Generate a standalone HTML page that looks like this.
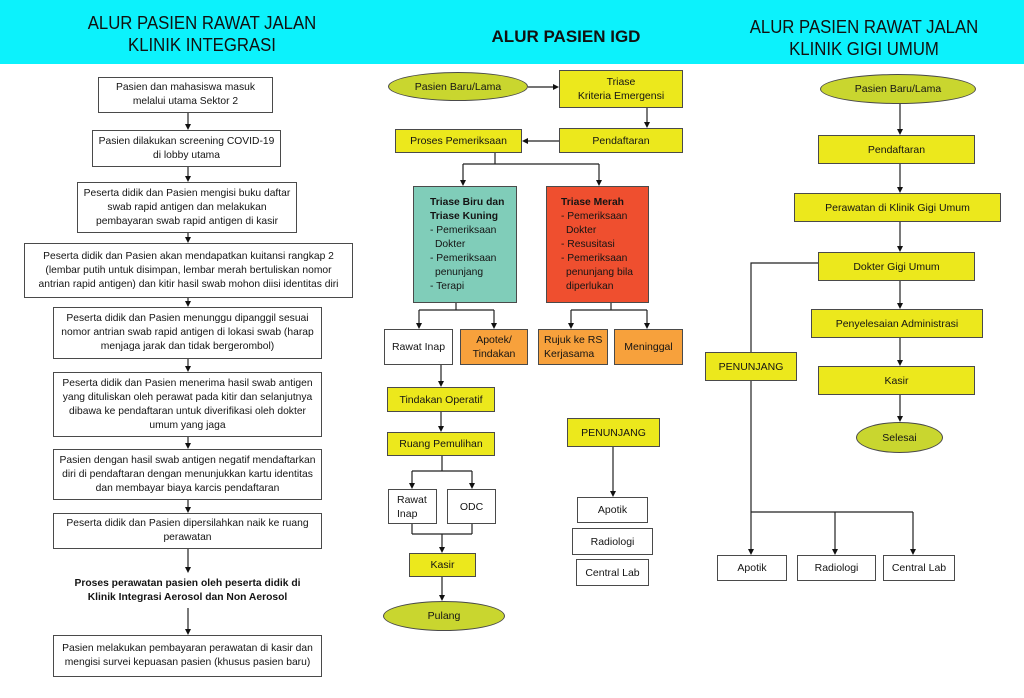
<!DOCTYPE html>
<html>
<head>
<meta charset="utf-8">
<style>
  html,body{margin:0;padding:0;background:#fff;}
  #c{position:relative;width:1024px;height:698px;overflow:hidden;background:#fff;font-family:"Liberation Sans",Arial,sans-serif;color:#141414;}
  .hdr{position:absolute;left:0;top:0;width:1024px;height:64px;background:#0cf2fc;}
  .t{position:absolute;font-size:18px;line-height:22px;text-align:center;white-space:nowrap;color:#111;transform:scaleX(0.93);transform-origin:center;}
  .b{position:absolute;box-sizing:border-box;border:1px solid #4a4a4a;display:flex;flex-direction:column;align-items:center;justify-content:center;text-align:center;font-size:10.3px;line-height:14px;white-space:nowrap;background:#fff;}
  .y{background:#ece81c;}
  .o{background:#f7a13c;}
  .e{position:absolute;box-sizing:border-box;border:1px solid #4a4a4a;border-radius:50%;background:#c9d62f;display:flex;align-items:center;justify-content:center;font-size:10.5px;white-space:nowrap;}
  .m{font-size:10.5px;}
  .lb{position:absolute;box-sizing:border-box;border:1px solid #4a4a4a;font-size:10.3px;line-height:14px;white-space:nowrap;}
  .lb div{height:14px;}
  .ind{padding-left:5px;}
  svg{position:absolute;left:0;top:0;}
</style>
</head>
<body>
<div id="c">
  <div class="hdr"></div>
  <div class="t" style="left:52px;top:12px;width:300px;">ALUR PASIEN RAWAT JALAN<br>KLINIK INTEGRASI</div>
  <div class="t" style="left:416px;top:26px;width:300px;font-weight:bold;transform:none;font-size:17px;">ALUR PASIEN IGD</div>
  <div class="t" style="left:714px;top:16px;width:300px;">ALUR PASIEN RAWAT JALAN<br>KLINIK GIGI UMUM</div>

  <!-- Left column -->
  <div class="b" style="left:98px;top:77px;width:175px;height:36px;"><div>Pasien dan mahasiswa masuk</div><div>melalui utama Sektor 2</div></div>
  <div class="b" style="left:92px;top:130px;width:189px;height:37px;"><div>Pasien dilakukan screening COVID-19</div><div>di lobby utama</div></div>
  <div class="b" style="left:77px;top:182px;width:220px;height:51px;"><div>Peserta didik dan Pasien mengisi buku daftar</div><div>swab rapid antigen dan melakukan</div><div>pembayaran swab rapid antigen di kasir</div></div>
  <div class="b" style="left:24px;top:243px;width:329px;height:55px;"><div>Peserta didik dan Pasien akan mendapatkan kuitansi rangkap 2</div><div>(lembar putih untuk disimpan, lembar merah bertuliskan nomor</div><div>antrian rapid antigen) dan kitir hasil swab mohon diisi identitas diri</div></div>
  <div class="b" style="left:53px;top:307px;width:269px;height:52px;"><div>Peserta didik dan Pasien menunggu dipanggil sesuai</div><div>nomor antrian swab rapid antigen di lokasi swab (harap</div><div>menjaga jarak dan tidak bergerombol)</div></div>
  <div class="b" style="left:53px;top:372px;width:269px;height:65px;"><div>Peserta didik dan Pasien menerima hasil swab antigen</div><div>yang dituliskan oleh perawat pada kitir dan selanjutnya</div><div>dibawa ke pendaftaran untuk diverifikasi oleh dokter</div><div>umum yang jaga</div></div>
  <div class="b" style="left:53px;top:449px;width:269px;height:51px;"><div>Pasien dengan hasil swab antigen negatif mendaftarkan</div><div>diri di pendaftaran dengan menunjukkan kartu identitas</div><div>dan membayar biaya karcis pendaftaran</div></div>
  <div class="b" style="left:53px;top:513px;width:269px;height:36px;"><div>Peserta didik dan Pasien dipersilahkan naik ke ruang</div><div>perawatan</div></div>
  <div class="b" style="left:53px;top:576px;width:269px;height:30px;border:none;background:transparent;font-weight:bold;"><div>Proses perawatan pasien oleh peserta didik di</div><div>Klinik Integrasi Aerosol dan Non Aerosol</div></div>
  <div class="b" style="left:53px;top:635px;width:269px;height:42px;"><div>Pasien melakukan pembayaran perawatan di kasir dan</div><div>mengisi survei kepuasan pasien (khusus pasien baru)</div></div>

  <!-- Middle column -->
  <div class="e" style="left:388px;top:72px;width:140px;height:29px;">Pasien Baru/Lama</div>
  <div class="b y m" style="left:559px;top:70px;width:124px;height:38px;"><div>Triase</div><div>Kriteria Emergensi</div></div>
  <div class="b y m" style="left:559px;top:128px;width:124px;height:25px;">Pendaftaran</div>
  <div class="b y m" style="left:395px;top:129px;width:127px;height:24px;">Proses Pemeriksaan</div>
  <div class="lb" style="left:413px;top:186px;width:104px;height:117px;background:#80cdb9;padding:9px 0 0 16px;">
    <div style="font-weight:bold;">Triase Biru dan</div>
    <div style="font-weight:bold;">Triase Kuning</div>
    <div>- Pemeriksaan</div>
    <div class="ind">Dokter</div>
    <div>- Pemeriksaan</div>
    <div class="ind">penunjang</div>
    <div>- Terapi</div>
  </div>
  <div class="lb" style="left:546px;top:186px;width:103px;height:117px;background:#ef4f2f;padding:9px 0 0 14px;">
    <div style="font-weight:bold;">Triase Merah</div>
    <div>- Pemeriksaan</div>
    <div class="ind">Dokter</div>
    <div>- Resusitasi</div>
    <div>- Pemeriksaan</div>
    <div class="ind">penunjang bila</div>
    <div class="ind">diperlukan</div>
  </div>
  <div class="b m" style="left:384px;top:329px;width:69px;height:36px;">Rawat Inap</div>
  <div class="b o m" style="left:460px;top:329px;width:68px;height:36px;"><div>Apotek/</div><div>Tindakan</div></div>
  <div class="b o m" style="left:538px;top:329px;width:70px;height:36px;align-items:flex-start;text-align:left;padding-left:5px;"><div>Rujuk ke RS</div><div>Kerjasama</div></div>
  <div class="b o m" style="left:614px;top:329px;width:69px;height:36px;">Meninggal</div>
  <div class="b y m" style="left:387px;top:387px;width:108px;height:25px;">Tindakan Operatif</div>
  <div class="b y m" style="left:387px;top:432px;width:108px;height:24px;">Ruang Pemulihan</div>
  <div class="b m" style="left:388px;top:489px;width:49px;height:35px;align-items:flex-start;text-align:left;padding-left:8px;"><div>Rawat</div><div>Inap</div></div>
  <div class="b m" style="left:447px;top:489px;width:49px;height:35px;">ODC</div>
  <div class="b y m" style="left:409px;top:553px;width:67px;height:24px;">Kasir</div>
  <div class="e" style="left:383px;top:601px;width:122px;height:30px;">Pulang</div>
  <div class="b y m" style="left:567px;top:418px;width:93px;height:29px;">PENUNJANG</div>
  <div class="b m" style="left:577px;top:497px;width:71px;height:26px;">Apotik</div>
  <div class="b m" style="left:572px;top:528px;width:81px;height:27px;">Radiologi</div>
  <div class="b m" style="left:576px;top:559px;width:73px;height:27px;">Central Lab</div>

  <!-- Right column -->
  <div class="e" style="left:820px;top:74px;width:156px;height:30px;">Pasien Baru/Lama</div>
  <div class="b y m" style="left:818px;top:135px;width:157px;height:29px;">Pendaftaran</div>
  <div class="b y m" style="left:794px;top:193px;width:207px;height:29px;">Perawatan di Klinik Gigi Umum</div>
  <div class="b y m" style="left:818px;top:252px;width:157px;height:29px;">Dokter Gigi Umum</div>
  <div class="b y m" style="left:811px;top:309px;width:172px;height:29px;">Penyelesaian Administrasi</div>
  <div class="b y m" style="left:705px;top:352px;width:92px;height:29px;">PENUNJANG</div>
  <div class="b y m" style="left:818px;top:366px;width:157px;height:29px;">Kasir</div>
  <div class="e" style="left:856px;top:422px;width:87px;height:31px;">Selesai</div>
  <div class="b m" style="left:717px;top:555px;width:70px;height:26px;">Apotik</div>
  <div class="b m" style="left:797px;top:555px;width:79px;height:26px;">Radiologi</div>
  <div class="b m" style="left:883px;top:555px;width:72px;height:26px;">Central Lab</div>

  <svg width="1024" height="698" viewBox="0 0 1024 698">
    <g stroke="#222" stroke-width="1.2" fill="none">
      <!-- left -->
      <line x1="188" y1="113" x2="188" y2="125"/>
      <line x1="188" y1="167" x2="188" y2="177"/>
      <line x1="188" y1="233" x2="188" y2="238"/>
      <line x1="188" y1="298" x2="188" y2="302"/>
      <line x1="188" y1="359" x2="188" y2="367"/>
      <line x1="188" y1="437" x2="188" y2="444"/>
      <line x1="188" y1="500" x2="188" y2="508"/>
      <line x1="188" y1="549" x2="188" y2="568"/>
      <line x1="188" y1="608" x2="188" y2="630"/>
      <!-- middle -->
      <line x1="528" y1="87" x2="553" y2="87"/>
      <line x1="647" y1="108" x2="647" y2="123"/>
      <line x1="559" y1="141" x2="528" y2="141"/>
      <polyline points="495,153 495,164"/>
      <line x1="463" y1="164" x2="599" y2="164"/>
      <line x1="463" y1="164" x2="463" y2="180"/>
      <line x1="599" y1="164" x2="599" y2="180"/>
      <line x1="456" y1="303" x2="456" y2="310"/>
      <line x1="419" y1="310" x2="494" y2="310"/>
      <line x1="419" y1="310" x2="419" y2="323"/>
      <line x1="494" y1="310" x2="494" y2="323"/>
      <line x1="611" y1="303" x2="611" y2="310"/>
      <line x1="571" y1="310" x2="647" y2="310"/>
      <line x1="571" y1="310" x2="571" y2="323"/>
      <line x1="647" y1="310" x2="647" y2="323"/>
      <line x1="441" y1="365" x2="441" y2="381"/>
      <line x1="441" y1="412" x2="441" y2="426"/>
      <line x1="442" y1="456" x2="442" y2="471"/>
      <line x1="412" y1="471" x2="472" y2="471"/>
      <line x1="412" y1="471" x2="412" y2="483"/>
      <line x1="472" y1="471" x2="472" y2="483"/>
      <line x1="412" y1="524" x2="412" y2="534"/>
      <line x1="472" y1="524" x2="472" y2="534"/>
      <line x1="412" y1="534" x2="472" y2="534"/>
      <line x1="442" y1="534" x2="442" y2="547"/>
      <line x1="442" y1="577" x2="442" y2="595"/>
      <line x1="613" y1="447" x2="613" y2="491"/>
      <!-- right -->
      <line x1="900" y1="104" x2="900" y2="129"/>
      <line x1="900" y1="164" x2="900" y2="187"/>
      <line x1="900" y1="222" x2="900" y2="246"/>
      <line x1="900" y1="281" x2="900" y2="303"/>
      <line x1="900" y1="338" x2="900" y2="360"/>
      <line x1="900" y1="395" x2="900" y2="416"/>
      <polyline points="818,263 751,263 751,352"/>
      <line x1="751" y1="381" x2="751" y2="512"/>
      <line x1="751" y1="512" x2="913" y2="512"/>
      <line x1="751" y1="512" x2="751" y2="549"/>
      <line x1="835" y1="512" x2="835" y2="549"/>
      <line x1="913" y1="512" x2="913" y2="549"/>
    </g>
    <g fill="#111">
      <!-- left arrowheads -->
      <polygon points="185,124 191,124 188,130"/>
      <polygon points="185,176 191,176 188,182"/>
      <polygon points="185,237 191,237 188,243"/>
      <polygon points="185,301 191,301 188,307"/>
      <polygon points="185,366 191,366 188,372"/>
      <polygon points="185,443 191,443 188,449"/>
      <polygon points="185,507 191,507 188,513"/>
      <polygon points="185,567 191,567 188,573"/>
      <polygon points="185,629 191,629 188,635"/>
      <!-- middle -->
      <polygon points="553,84 553,90 559,87"/>
      <polygon points="644,122 650,122 647,128"/>
      <polygon points="528,138 528,144 522,141"/>
      <polygon points="460,180 466,180 463,186"/>
      <polygon points="596,180 602,180 599,186"/>
      <polygon points="416,323 422,323 419,329"/>
      <polygon points="491,323 497,323 494,329"/>
      <polygon points="568,323 574,323 571,329"/>
      <polygon points="644,323 650,323 647,329"/>
      <polygon points="438,381 444,381 441,387"/>
      <polygon points="438,426 444,426 441,432"/>
      <polygon points="409,483 415,483 412,489"/>
      <polygon points="469,483 475,483 472,489"/>
      <polygon points="439,547 445,547 442,553"/>
      <polygon points="439,595 445,595 442,601"/>
      <polygon points="610,491 616,491 613,497"/>
      <!-- right -->
      <polygon points="897,129 903,129 900,135"/>
      <polygon points="897,187 903,187 900,193"/>
      <polygon points="897,246 903,246 900,252"/>
      <polygon points="897,303 903,303 900,309"/>
      <polygon points="897,360 903,360 900,366"/>
      <polygon points="897,416 903,416 900,422"/>
      <polygon points="748,549 754,549 751,555"/>
      <polygon points="832,549 838,549 835,555"/>
      <polygon points="910,549 916,549 913,555"/>
    </g>
  </svg>
</div>
</body>
</html>
